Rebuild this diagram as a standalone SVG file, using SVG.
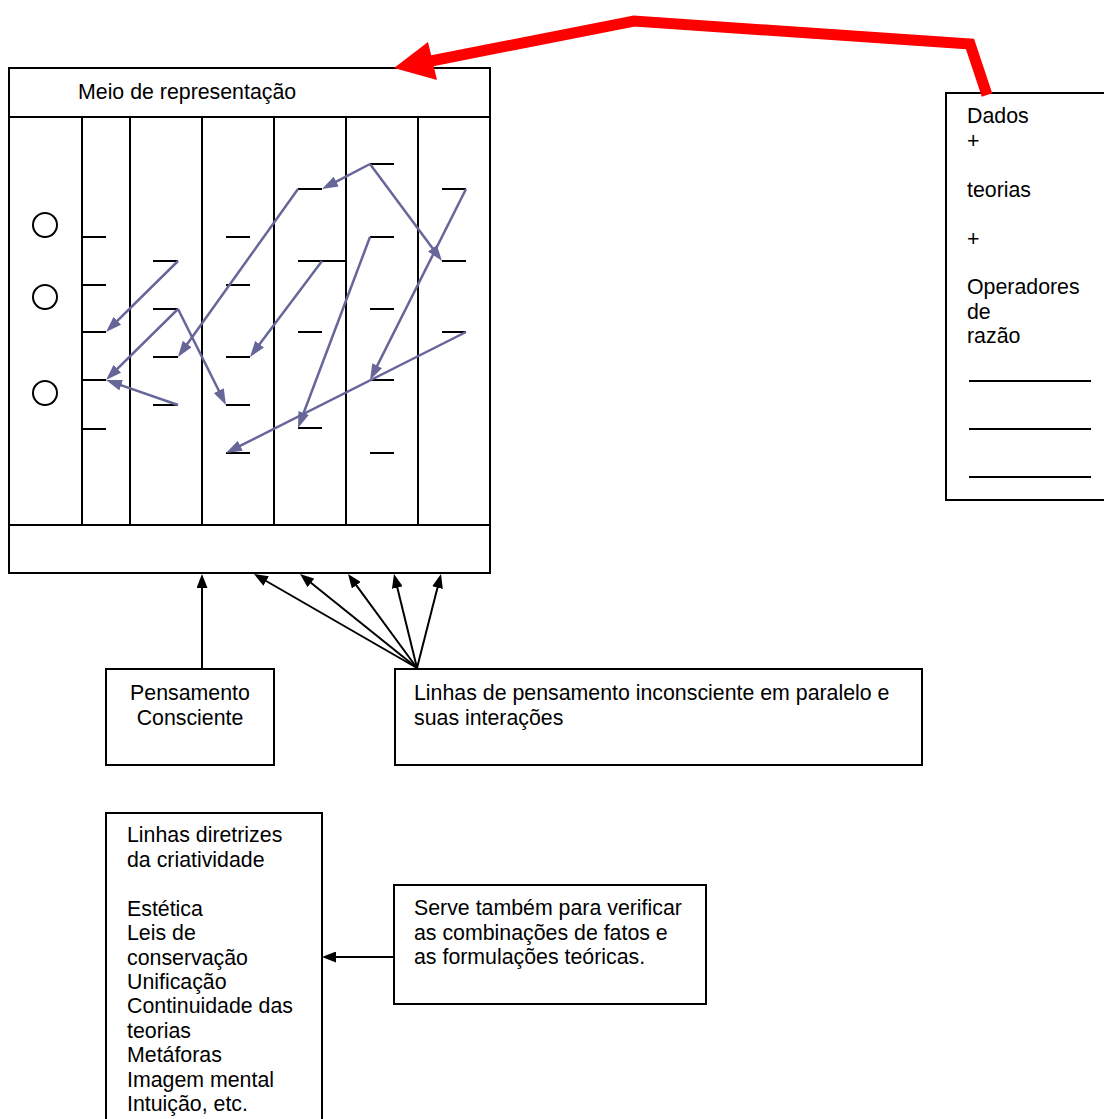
<svg xmlns="http://www.w3.org/2000/svg" width="1104" height="1119" viewBox="0 0 1104 1119">
  <style>
    text { font-family: "Liberation Sans", Arial, sans-serif; font-size: 21.33px; fill: #000; }
    .box { fill: #fff; stroke: #000; stroke-width: 2; }
    .rule { stroke: #000; stroke-width: 2; fill: none; }
    .dash { stroke: #000; stroke-width: 2; }
    .flow { stroke: #666699; stroke-width: 2.5; fill: none; marker-end: url(#purpleHead); }
    .link { stroke: #000; stroke-width: 2; fill: none; marker-end: url(#blackHead); }
  </style>
  <defs>
    <marker id="purpleHead" markerUnits="userSpaceOnUse" markerWidth="16" markerHeight="11" refX="8" refY="5.5" orient="auto">
      <path d="M0,0 L16,5.5 L0,11 z" fill="#666699"/>
    </marker>
    <marker id="blackHead" markerUnits="userSpaceOnUse" markerWidth="14" markerHeight="11" refX="8" refY="5.5" orient="auto">
      <path d="M0,0 L14,5.5 L0,11 z" fill="#000"/>
    </marker>
  </defs>

  <rect width="1104" height="1119" fill="#fff"/>

  <!-- Representation medium: header, parallel columns, bottom band -->
  <g id="meio-representacao">
    <rect class="box" x="9" y="68" width="481" height="505"/>
    <line class="rule" x1="9" y1="117" x2="490" y2="117"/>
    <line class="rule" x1="9" y1="525" x2="490" y2="525"/>
    <text x="78" y="99">Meio de representação</text>
    <g class="rule">
      <line x1="82" y1="117" x2="82" y2="525"/>
      <line x1="130" y1="117" x2="130" y2="525"/>
      <line x1="202" y1="117" x2="202" y2="525"/>
      <line x1="274" y1="117" x2="274" y2="525"/>
      <line x1="346" y1="117" x2="346" y2="525"/>
      <line x1="418" y1="117" x2="418" y2="525"/>
    </g>
    <g fill="none" stroke="#000" stroke-width="2">
      <circle cx="45" cy="225" r="12"/>
      <circle cx="45" cy="297" r="12"/>
      <circle cx="45" cy="393" r="12"/>
    </g>
    <!-- short marks in each column -->
    <g class="dash">
      <line x1="82" y1="237" x2="106" y2="237"/>
      <line x1="82" y1="285" x2="106" y2="285"/>
      <line x1="82" y1="332" x2="106" y2="332"/>
      <line x1="82" y1="380" x2="106" y2="380"/>
      <line x1="82" y1="429" x2="106" y2="429"/>

      <line x1="153" y1="261" x2="178" y2="261"/>
      <line x1="153" y1="309" x2="178" y2="309"/>
      <line x1="153" y1="357" x2="178" y2="357"/>
      <line x1="153" y1="405" x2="178" y2="405"/>

      <line x1="226" y1="237" x2="250" y2="237"/>
      <line x1="226" y1="285" x2="250" y2="285"/>
      <line x1="226" y1="357" x2="250" y2="357"/>
      <line x1="226" y1="405" x2="250" y2="405"/>
      <line x1="226" y1="453" x2="250" y2="453"/>

      <line x1="298" y1="189" x2="322" y2="189"/>
      <line x1="298" y1="261" x2="346" y2="261"/>
      <line x1="298" y1="332" x2="322" y2="332"/>
      <line x1="298" y1="428" x2="322" y2="428"/>

      <line x1="370" y1="164" x2="394" y2="164"/>
      <line x1="370" y1="237" x2="394" y2="237"/>
      <line x1="370" y1="309" x2="394" y2="309"/>
      <line x1="370" y1="380" x2="394" y2="380"/>
      <line x1="370" y1="453" x2="394" y2="453"/>

      <line x1="442" y1="189" x2="466" y2="189"/>
      <line x1="442" y1="261" x2="466" y2="261"/>
      <line x1="442" y1="332" x2="466" y2="332"/>
    </g>
  </g>

  <g id="dados-teorias">
    <rect class="box" x="946" y="93" width="170" height="407"/>
    <text x="967" y="123">Dados</text>
    <text x="967" y="148">+</text>
    <text x="967" y="197">teorias</text>
    <text x="967" y="246">+</text>
    <text x="967" y="294">Operadores</text>
    <text x="967" y="319">de</text>
    <text x="967" y="343">razão</text>
    <g class="dash">
      <line x1="969" y1="381" x2="1091" y2="381"/>
      <line x1="969" y1="429" x2="1091" y2="429"/>
      <line x1="969" y1="477" x2="1091" y2="477"/>
    </g>
  </g>

  <g id="pensamento-consciente">
    <rect class="box" x="106" y="669" width="168" height="96"/>
    <text x="190" y="700" text-anchor="middle">Pensamento</text>
    <text x="190" y="725" text-anchor="middle">Consciente</text>
  </g>

  <g id="linhas-inconsciente">
    <rect class="box" x="395" y="669" width="527" height="96"/>
    <text x="414" y="700">Linhas de pensamento inconsciente em paralelo e</text>
    <text x="414" y="725">suas interações</text>
  </g>

  <g id="linhas-diretrizes">
    <rect class="box" x="106" y="813" width="216" height="320"/>
    <text x="127" y="842">Linhas diretrizes</text>
    <text x="127" y="867">da criatividade</text>
    <text x="127" y="916">Estética</text>
    <text x="127" y="940">Leis de</text>
    <text x="127" y="965">conservação</text>
    <text x="127" y="989">Unificação</text>
    <text x="127" y="1013">Continuidade das</text>
    <text x="127" y="1038">teorias</text>
    <text x="127" y="1062">Metáforas</text>
    <text x="127" y="1087">Imagem mental</text>
    <text x="127" y="1111">Intuição, etc.</text>
  </g>

  <g id="serve-verificar">
    <rect class="box" x="394" y="885" width="312" height="119"/>
    <text x="414" y="915">Serve também para verificar</text>
    <text x="414" y="940">as combinações de fatos e</text>
    <text x="414" y="964">as formulações teóricas.</text>
  </g>

  <g id="connectors">
    <!-- interactions between the parallel lines of thought -->
    <g class="flows">
      <line class="flow" x1="178" y1="261" x2="111.7" y2="326.4"/>
      <line class="flow" x1="178" y1="309" x2="111.7" y2="374.4"/>
      <line class="flow" x1="178" y1="309" x2="222.4" y2="397.8"/>
      <line class="flow" x1="178" y1="405" x2="113.6" y2="382.6"/>
      <line class="flow" x1="298" y1="189" x2="182.6" y2="350.5"/>
      <line class="flow" x1="370" y1="164" x2="329.1" y2="185.3"/>
      <line class="flow" x1="370" y1="164" x2="437.2" y2="254.6"/>
      <line class="flow" x1="322" y1="261" x2="254.8" y2="350.6"/>
      <line class="flow" x1="370" y1="237" x2="300.8" y2="420.5"/>
      <line class="flow" x1="466" y1="189" x2="373.6" y2="372.9"/>
      <line class="flow" x1="466" y1="332" x2="233.1" y2="449.4"/>
    </g>

    <!-- conscious thought into the medium -->
    <line class="link" x1="202" y1="669" x2="202" y2="580"/>

    <!-- unconscious lines fanning into the medium -->
    <line class="link" x1="417" y1="668" x2="259.2" y2="577"/>
    <line class="link" x1="417" y1="668" x2="304.7" y2="577.8"/>
    <line class="link" x1="417" y1="668" x2="351.6" y2="578.8"/>
    <line class="link" x1="417" y1="668" x2="395.4" y2="579.8"/>
    <line class="link" x1="417" y1="668" x2="439.5" y2="579.8"/>

    <!-- verification feeding the guidelines -->
    <line class="link" x1="394" y1="957" x2="328" y2="957"/>

    <!-- data + theories into the medium -->
    <polyline points="987,95 970,44 634,21 431,61" fill="none" stroke="#ff0000" stroke-width="11" stroke-linejoin="miter"/>
    <polygon points="394,68 428,42 437,80" fill="#ff0000"/>
  </g>
</svg>
